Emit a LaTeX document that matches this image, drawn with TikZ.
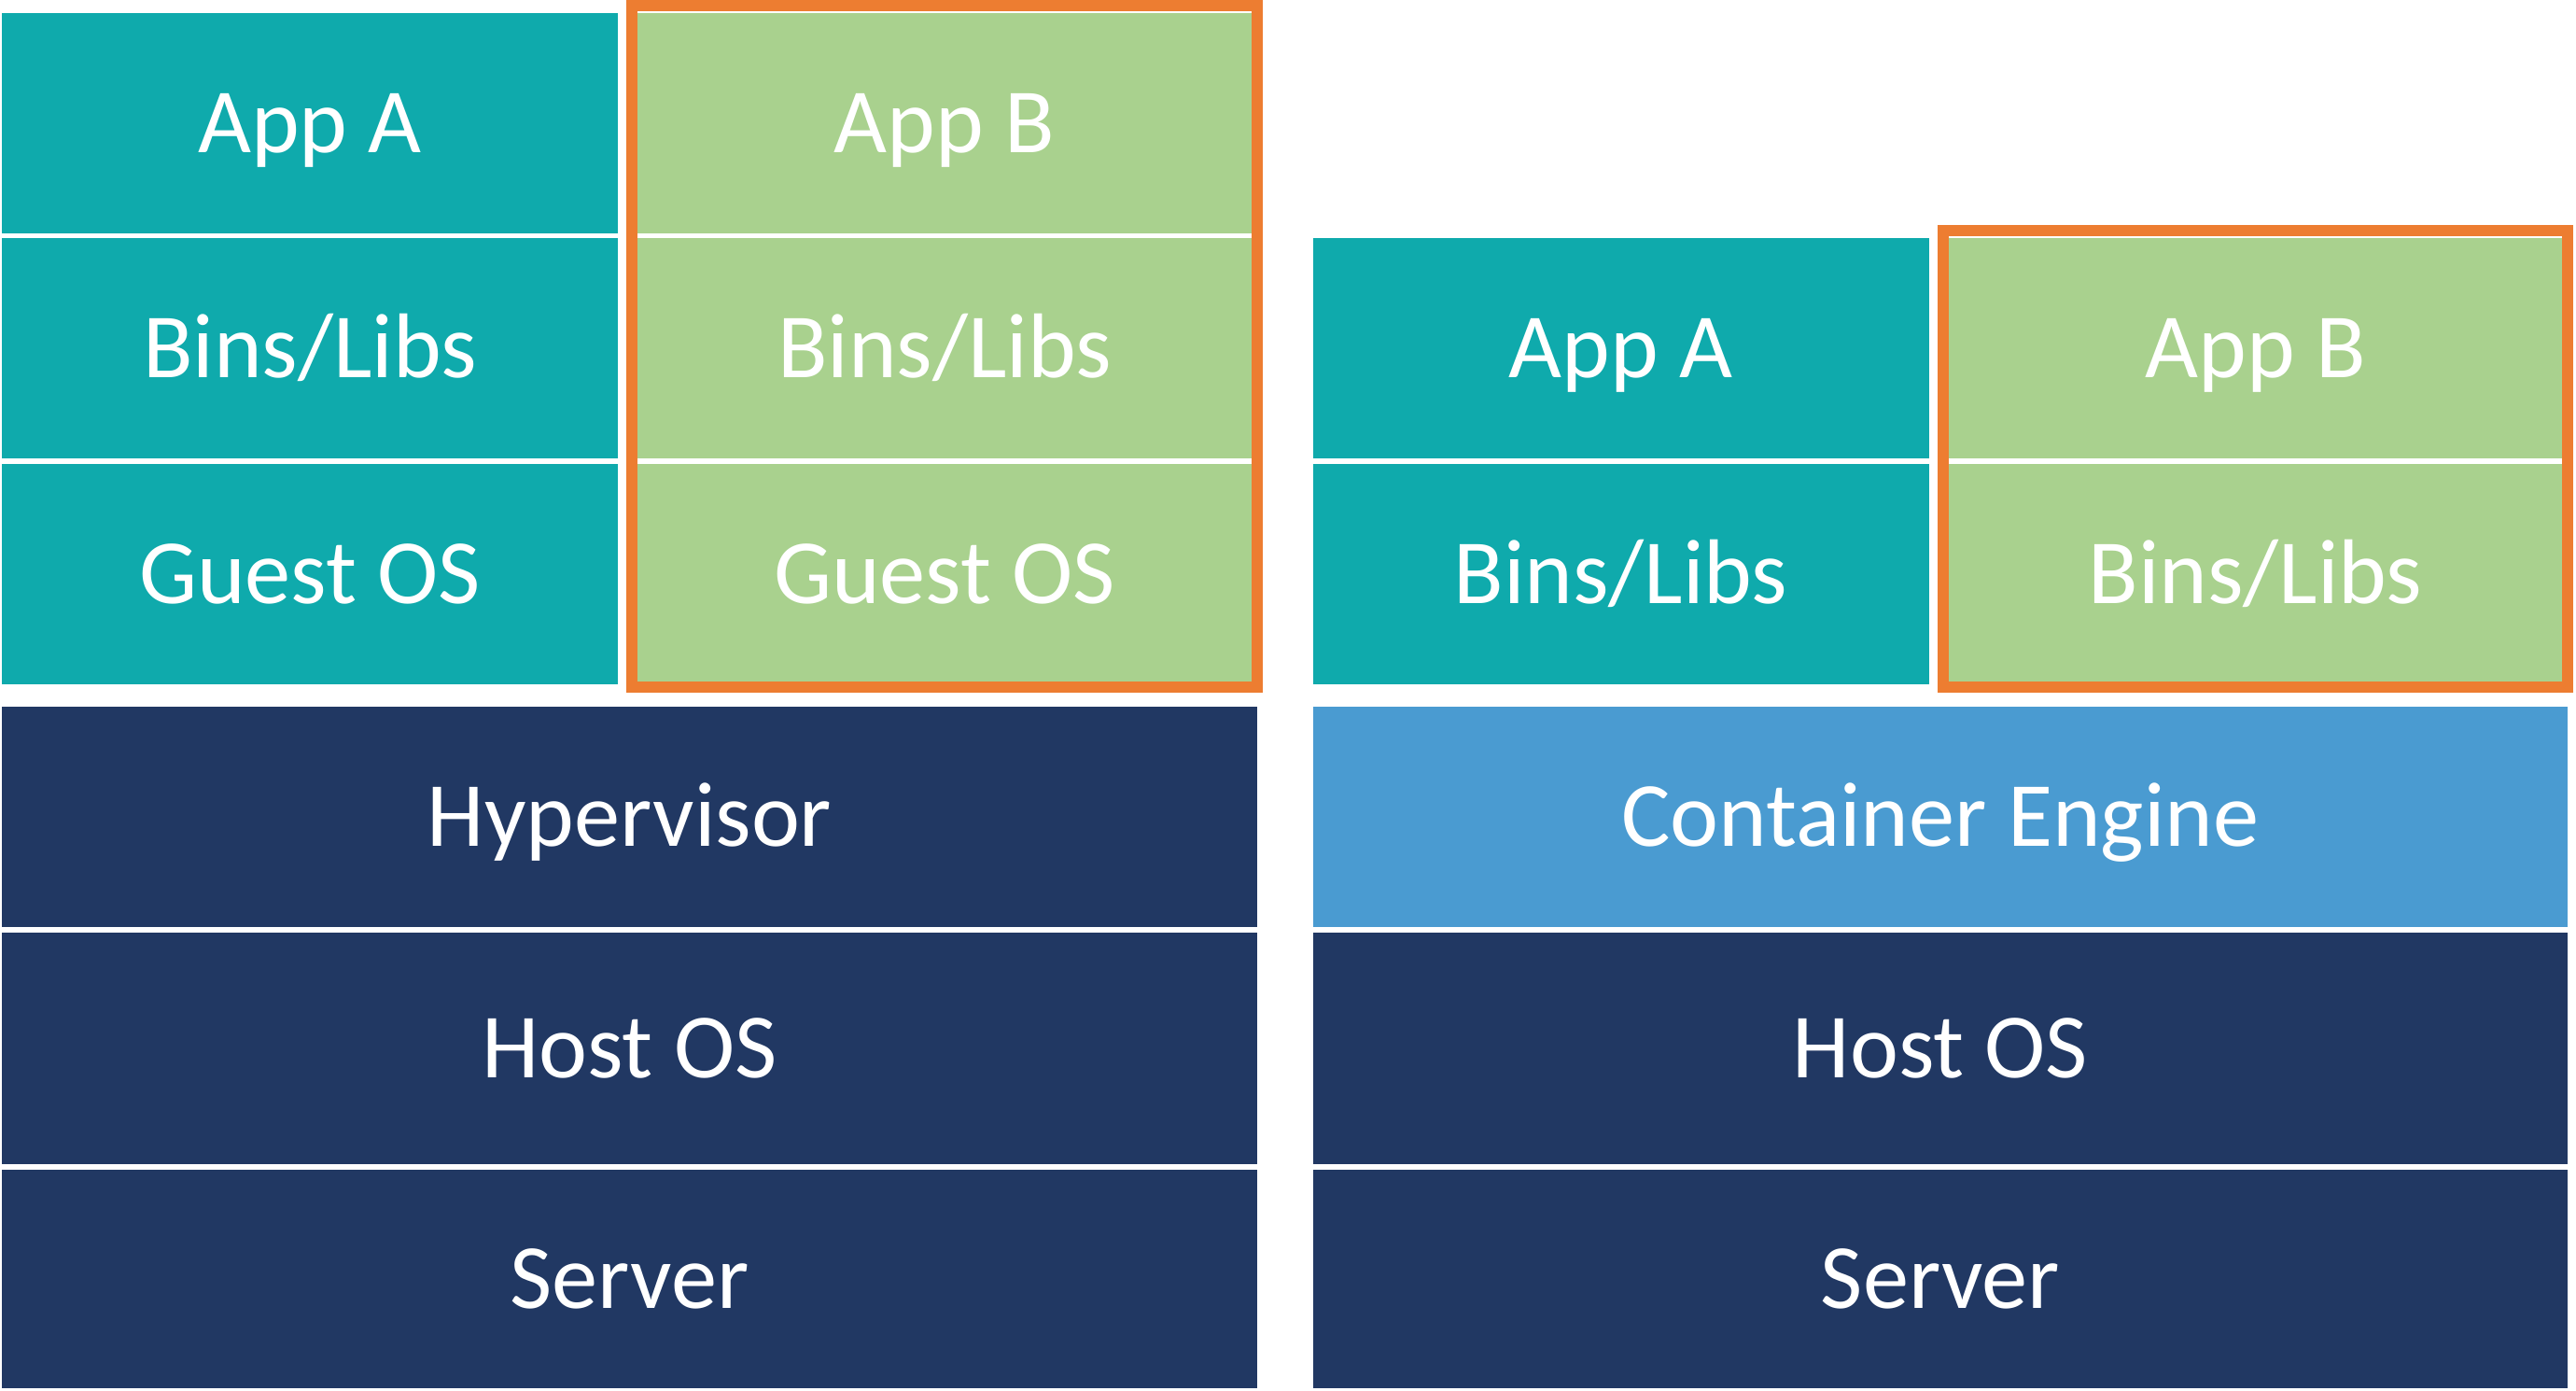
\documentclass[tikz,border=0pt]{standalone}
\usepackage{fontspec}
\setmainfont{Carlito}
\usepackage{tikz}
\usetikzlibrary{fit}
\definecolor{appteal}{HTML}{0FAAAC}
\definecolor{appgreen}{HTML}{A9D18E}
\definecolor{frameorange}{HTML}{ED7D31}
\definecolor{hostnavy}{HTML}{213863}
\definecolor{engineblue}{HTML}{4A9BD1}
\tikzstyle{layer} = [rectangle, inner sep=0pt, text=white,
    font=\fontsize{28}{32}\selectfont, text height=18pt, text depth=0pt,
    minimum height=2.36cm]
\tikzstyle{tealbox} = [layer, fill=appteal, minimum width=6.6cm]
\tikzstyle{greenbox} = [layer, fill=appgreen, minimum width=6.58cm]
\tikzstyle{basebox} = [layer, fill=hostnavy, minimum width=13.45cm]
\tikzset{orangeframe/.style={draw=frameorange, line width=0.12cm,
    inner sep=0.05cm, yshift=0.025cm}}

\begin{document}
\begin{tikzpicture}
\useasboundingbox (0,0) rectangle (27.6,-14.9);
\begin{scope}
    %virtual machines
    \node[tealbox] (appA1) at (3.32,-1.32) {App A};
    \node[tealbox] (binsA1) at (3.32,-3.73) {Bins/Libs};
    \node[tealbox] (guestA1) at (3.32,-6.145) {Guest OS};
    \node[greenbox] (appB1) at (10.12,-1.32) {App B};
    \node[greenbox] (binsB1) at (10.12,-3.73) {Bins/Libs};
    \node[greenbox] (guestB1) at (10.12,-6.145) {Guest OS};
    \node[orangeframe, fit=(appB1)(guestB1)] (vmB) {};
    %base layers
    \node[basebox] (hyper) at (6.745,-8.75) {Hypervisor};
    \node[basebox, minimum height=2.48cm] (host1) at (6.745,-11.23) {Host OS};
    \node[basebox, minimum height=2.34cm] (server1) at (6.745,-13.70) {Server};
\end{scope}
\begin{scope}[xshift=14.04cm]
    %containers
    \node[tealbox] (appA2) at (3.325,-3.73) {App A};
    \node[tealbox] (binsA2) at (3.325,-6.15) {Bins/Libs};
    \node[greenbox] (appB2) at (10.125,-3.73) {App B};
    \node[greenbox] (binsB2) at (10.125,-6.15) {Bins/Libs};
    \node[orangeframe, fit=(appB2)(binsB2)] (ctB) {};
    %base layers
    \node[basebox, fill=engineblue, minimum width=13.44cm] (engine) at (6.75,-8.75) {Container Engine};
    \node[basebox, minimum width=13.44cm, minimum height=2.48cm] (host2) at (6.75,-11.23) {Host OS};
    \node[basebox, minimum width=13.44cm, minimum height=2.34cm] (server2) at (6.75,-13.70) {Server};
\end{scope}
\end{tikzpicture}
\end{document}
